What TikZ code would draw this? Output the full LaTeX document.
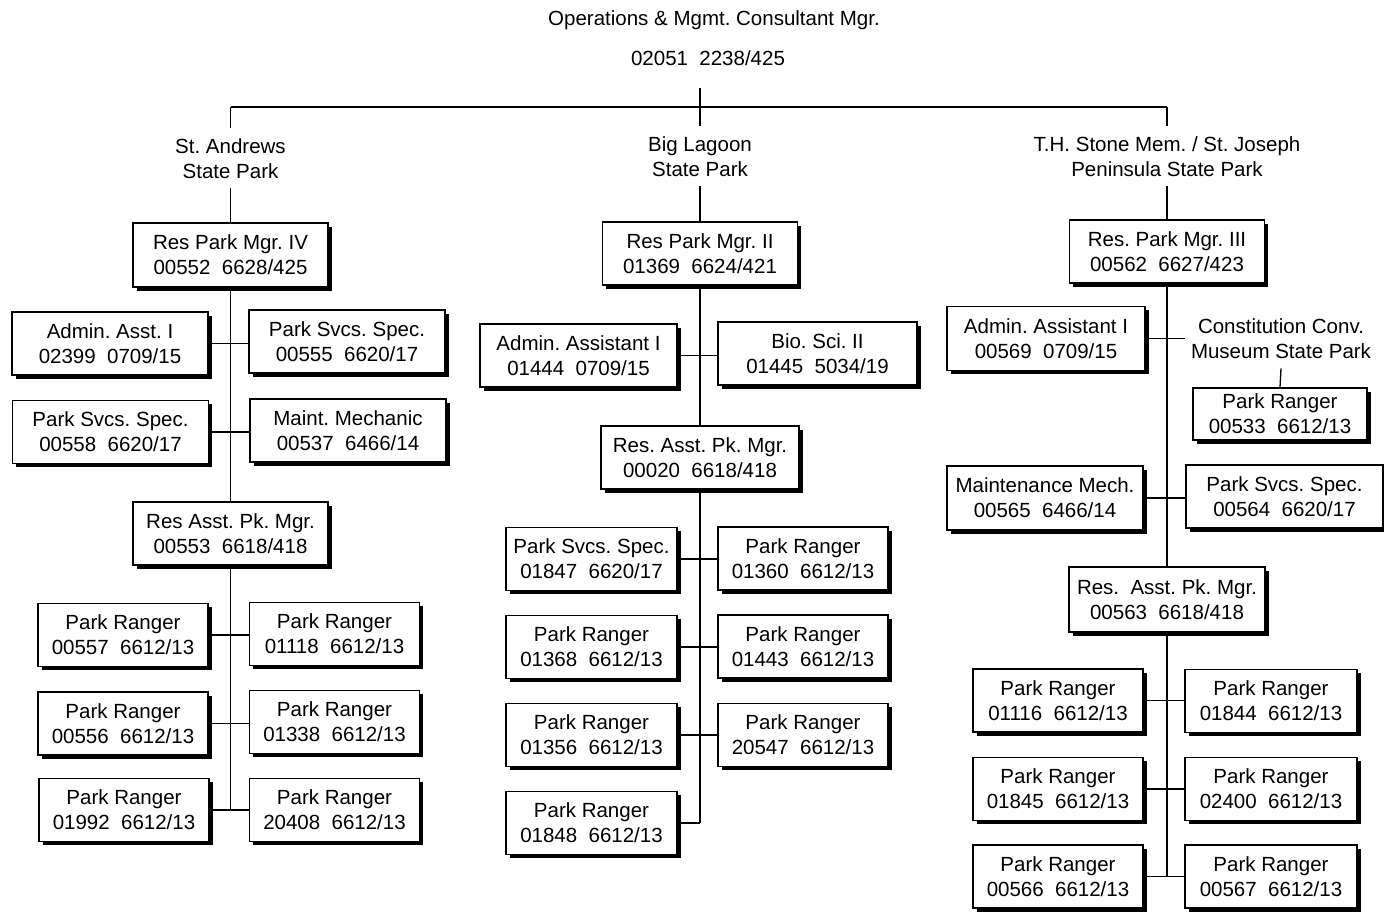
\documentclass[tikz,border=0pt]{standalone}
\usepackage{fontspec}
\setmainfont{Liberation Sans}
\usetikzlibrary{shadows}
\frenchspacing

\begin{document}
\begin{tikzpicture}[x=1pt, y=-1pt,
    every node/.style={font=\fontsize{20.5}{25}\selectfont},
    post/.style={draw, line width=1.5pt, fill=white, align=center, inner sep=0pt,
      minimum height=63pt,
      drop shadow={shadow xshift=3.5pt, shadow yshift=-3.5pt, opacity=1, fill=black}},
    wide/.style={post, minimum width=196pt},
    ranger/.style={post, minimum width=170pt},
    park/.style={align=center, anchor=north, inner xsep=0pt, inner ysep=10pt},
    link/.style={line width=1.3pt},
    bus/.style={line width=2pt}]
  \useasboundingbox (0,0) rectangle (1384,913);

  \node[anchor=base] (title) at (714,25) {Operations \& Mgmt. Consultant Mgr.};
  \node[anchor=base] (titleno) at (708,65) {02051~~2238/425};
  \coordinate (rootTop) at (700,88);
  \coordinate (busL) at (230.5,107);
  \coordinate (busR) at (1167,107);

  \node[park] (parkA) at (230.5,128) {St. Andrews\\State Park};
  \node[park] (parkB) at (700,126) {Big Lagoon\\State Park};
  \node[park] (parkC) at (1167,126) {T.H. Stone Mem. / St. Joseph\\Peninsula State Park};

  % St. Andrews
  \node[wide, minimum width=195pt, minimum height=64pt] (mgrA) at (230.5,255) {Res Park Mgr. IV\\00552~~6628/425};
  \node[wide] (aaA) at (110,343.5) {Admin. Asst. I\\02399~~0709/15};
  \node[wide] (pssA1) at (347,341.5) {Park Svcs. Spec.\\00555~~6620/17};
  \node[wide] (pssA2) at (110.5,432) {Park Svcs. Spec.\\00558~~6620/17};
  \node[wide] (mmA) at (348,430.5) {Maint. Mechanic\\00537~~6466/14};
  \node[wide, minimum width=195pt] (rasA) at (230.5,533.5) {Res Asst. Pk. Mgr.\\00553~~6618/418};
  \node[ranger] (rgA1) at (123,635) {Park Ranger\\00557~~6612/13};
  \node[ranger] (rgA2) at (334.5,634) {Park Ranger\\01118~~6612/13};
  \node[ranger] (rgA3) at (123,723.5) {Park Ranger\\00556~~6612/13};
  \node[ranger] (rgA4) at (334.5,722) {Park Ranger\\01338~~6612/13};
  \node[ranger] (rgA5) at (124,810) {Park Ranger\\01992~~6612/13};
  \node[ranger] (rgA6) at (334.5,810) {Park Ranger\\20408~~6612/13};

  % Big Lagoon
  \node[wide, minimum width=195pt] (mgrB) at (700,253.5) {Res Park Mgr. II\\01369~~6624/421};
  \node[wide, minimum width=197pt] (aaB) at (578.5,355.5) {Admin. Assistant I\\01444~~0709/15};
  \node[wide, minimum width=199pt] (bioB) at (817.5,353.5) {Bio. Sci. II\\01445~~5034/19};
  \node[wide, minimum width=198pt] (rasB) at (700,457.5) {Res. Asst. Pk. Mgr.\\00020~~6618/418};
  \node[ranger, minimum width=171pt] (pssB) at (591.5,559) {Park Svcs. Spec.\\01847~~6620/17};
  \node[ranger] (rgB1) at (803,558.5) {Park Ranger\\01360~~6612/13};
  \node[ranger, minimum width=171pt] (rgB2) at (591.5,647) {Park Ranger\\01368~~6612/13};
  \node[ranger] (rgB3) at (803,646.5) {Park Ranger\\01443~~6612/13};
  \node[ranger, minimum width=171pt] (rgB4) at (591.5,735) {Park Ranger\\01356~~6612/13};
  \node[ranger] (rgB5) at (803,735) {Park Ranger\\20547~~6612/13};
  \node[ranger, minimum width=171pt] (rgB6) at (591.5,823) {Park Ranger\\01848~~6612/13};

  % T.H. Stone / St. Joseph
  \node[wide, minimum width=195pt] (mgrC) at (1167,251.5) {Res. Park Mgr. III\\00562~~6627/423};
  \node[wide, minimum width=198pt, minimum height=64pt] (aaC) at (1046,338.5) {Admin. Assistant I\\00569~~0709/15};
  \node[park] (ccm) at (1281,308) {Constitution Conv.\\Museum State Park};
  \node[ranger, minimum width=174pt, minimum height=52pt] (rgC0) at (1280,414) {Park Ranger\\00533~~6612/13};
  \node[wide, minimum height=64pt] (mmC) at (1045,498) {Maintenance Mech.\\00565~~6466/14};
  \node[wide, minimum width=197pt] (pssC) at (1284.5,496.5) {Park Svcs. Spec.\\00564~~6620/17};
  \node[wide, minimum height=65pt] (rasC) at (1167,599.5) {Res.~~Asst. Pk. Mgr.\\00563~~6618/418};
  \node[ranger] (rgC1) at (1058,700.5) {Park Ranger\\01116~~6612/13};
  \node[ranger, minimum width=172pt] (rgC2) at (1271,701) {Park Ranger\\01844~~6612/13};
  \node[ranger] (rgC3) at (1058,789) {Park Ranger\\01845~~6612/13};
  \node[ranger, minimum width=172pt] (rgC4) at (1271,789) {Park Ranger\\02400~~6612/13};
  \node[ranger] (rgC5) at (1058,876.5) {Park Ranger\\00566~~6612/13};
  \node[ranger, minimum width=172pt] (rgC6) at (1271,876.5) {Park Ranger\\00567~~6612/13};
  \coordinate (ccmLink) at (1185,338.5);

  \draw[bus] (busL) -- (busR);
  \draw[link] (rootTop) -- (rootTop |- parkB.north);
  \draw[link] (busL) -- (parkA.north);
  \draw[link] (busR) -- (parkC.north);
  \draw[link] (parkA.south) -- (mgrA.north);
  \draw[link] (parkB.south) -- (mgrB.north);
  \draw[link] (parkC.south) -- (mgrC.north);

  \draw[link] (mgrA.south) -- (rasA.north);
  \draw[link] (rasA.south) -- (rasA.south |- rgA5.east);
  \draw[link] (mgrB.south) -- (rasB.north);
  \draw[link] (rasB.south) -- (rasB.south |- rgB6.east);
  \draw[link] (mgrC.south) -- (rasC.north);
  \draw[link] (rasC.south) -- (rasC.south |- rgC5.east);

  \foreach \l/\r in {aaA/pssA1, pssA2/mmA, rgA1/rgA2, rgA3/rgA4, rgA5/rgA6,
      aaB/bioB, pssB/rgB1, rgB2/rgB3, rgB4/rgB5, mmC/pssC, rgC1/rgC2, rgC3/rgC4, rgC5/rgC6}
    \draw[link] (\l.east) -- (\l.east -| \r.west);
  \draw[link] (rgB6.east) -- (rgB6.east -| rasB.south);
  \draw[link] (aaC.east) -- (ccmLink);
  \draw[link] (ccm.south) -- (rgC0.north);
\end{tikzpicture}
\end{document}
